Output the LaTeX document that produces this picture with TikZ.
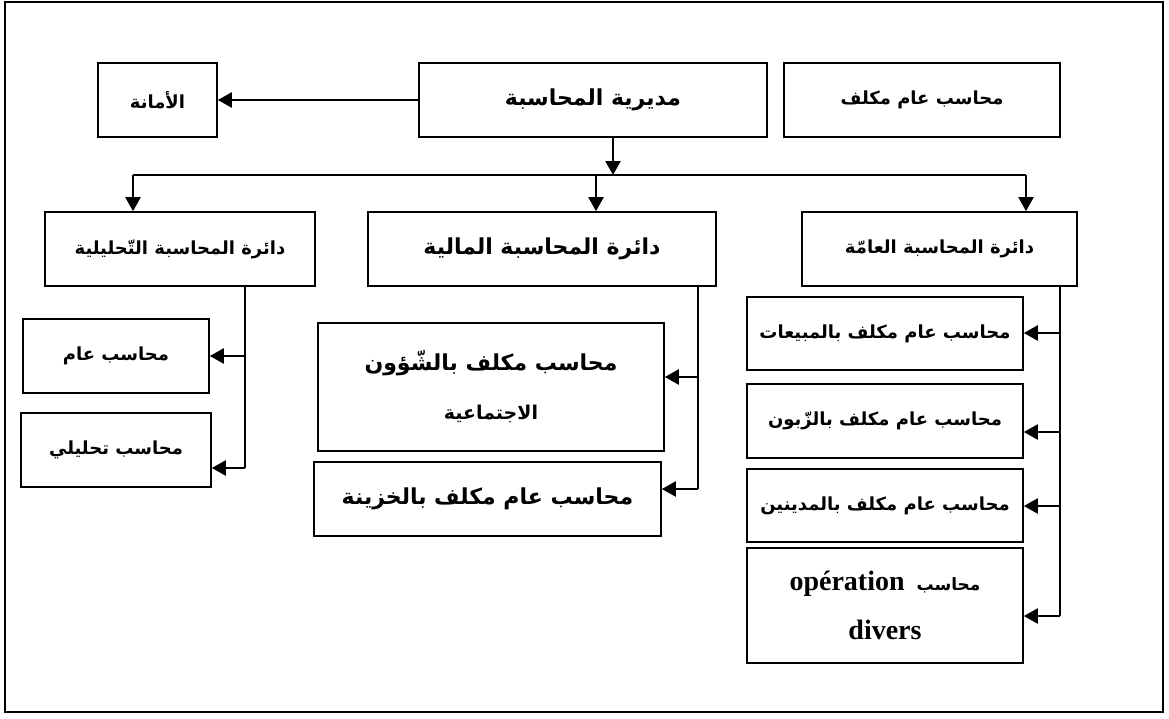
\documentclass[tikz,border=0pt]{standalone}
\usepackage{fontspec}
\usepackage{tikz}
\usetikzlibrary{positioning,arrows.meta}
\TeXXeTstate=1
\newfontfamily\arabicfont[Script=Arabic]{DejaVu Sans}
\newfontfamily\latinfont{Liberation Serif}
\newcommand{\arb}[1]{\beginR #1\endR}
\newcommand{\fsz}[1]{\fontsize{#1}{49}\selectfont}

\tikzset{
	box/.style={draw, line width=1.6pt, minimum height=74pt, inner sep=0pt, align=center,
		font=\arabicfont\bfseries\fsz{18}},
	big/.style={font=\arabicfont\bfseries\fsz{22}},
	link/.style={line width=2.2pt, -{Triangle[length=14pt,width=15pt]}},
	trunk/.style={line width=1.4pt},
}

\begin{document}
\begin{tikzpicture}[x=1pt, y=-1pt]
	\useasboundingbox (0,0) rectangle (1169,718);
	\draw[line width=2.2pt] (5,2) rectangle (1163,712);

	% top row
	\node[box, minimum width=119pt] (amana) at (157.5,100) {\arb{الأمانة}};
	\node[box, big, minimum width=348pt] (mudir) at (593,100) {\arb{مديرية المحاسبة}};
	\node[box, minimum width=276pt] (mukallaf) at (922,100) {\arb{محاسب عام مكلف}};

	% departments
	\node[box, minimum width=270pt] (tahlil) at (180,249) {\arb{دائرة المحاسبة التّحليلية}};
	\node[box, big, minimum width=348pt] (mali) at (542,249) {\arb{دائرة المحاسبة المالية}};
	\node[box, minimum width=275pt] (amma) at (939.5,249) {\arb{دائرة المحاسبة العامّة}};

	% left column
	\node[box, minimum width=186pt] (aam) at (116,356) {\arb{محاسب عام}};
	\node[box, minimum width=190pt] (tahlili) at (116,450) {\arb{محاسب تحليلي}};

	% middle column
	\node[box, big, minimum width=346pt, minimum height=128pt] (shuun) at (491,387)
		{\arb{محاسب مكلف بالشّؤون}\\ {\fsz{19}\arb{الاجتماعية}}};
	\node[box, big, minimum width=347pt] (khazina) at (487.5,499) {\arb{محاسب عام مكلف بالخزينة}};

	% right column
	\node[box, minimum width=276pt, minimum height=73pt] (mabiat) at (885,333.5) {\arb{محاسب عام مكلف بالمبيعات}};
	\node[box, minimum width=276pt] (zabun) at (885,421) {\arb{محاسب عام مكلف بالزّبون}};
	\node[box, minimum width=276pt, minimum height=73pt] (madinin) at (885,505.5) {\arb{محاسب عام مكلف بالمدينين}};
	\node[box, minimum width=276pt, minimum height=115pt] (divers) at (885,605.5)
		{\arb{{\fsz{17}محاسب}\hspace{12pt}\beginL{\latinfont\fsz{28}opération}\endL}\\
		{\latinfont\fsz{28}divers}};

	% links
	\draw[link] (mudir.west) -- (amana.east);

	\coordinate (bus) at (613,175);
	\coordinate (busL) at (133,175);
	\coordinate (busM) at (596,175);
	\coordinate (busR) at (1026,175);
	\draw[link] (mudir.south -| bus) -- (bus);
	\draw[line width=1.8pt] (busL) -- (busR);
	\draw[link] (busL) -- (busL |- tahlil.north);
	\draw[link] (busM) -- (busM |- mali.north);
	\draw[link] (busR) -- (busR |- amma.north);

	\coordinate (l1) at (245,356);
	\coordinate (l2) at (245,468);
	\draw[trunk] (l1 |- tahlil.south) -- (l2);
	\draw[link] (l1) -- (l1 -| aam.east);
	\draw[link] (l2) -- (l2 -| tahlili.east);

	\coordinate (m1) at (698,377);
	\coordinate (m2) at (698,489);
	\draw[trunk] (m1 |- mali.south) -- (m2);
	\draw[link] (m1) -- (m1 -| shuun.east);
	\draw[link] (m2) -- (m2 -| khazina.east);

	\coordinate (r1) at (1060,333);
	\coordinate (r2) at (1060,432);
	\coordinate (r3) at (1060,506);
	\coordinate (r4) at (1060,616);
	\draw[trunk] (r1 |- amma.south) -- (r4);
	\draw[link] (r1) -- (r1 -| mabiat.east);
	\draw[link] (r2) -- (r2 -| zabun.east);
	\draw[link] (r3) -- (r3 -| madinin.east);
	\draw[link] (r4) -- (r4 -| divers.east);

\end{tikzpicture}
\end{document}
